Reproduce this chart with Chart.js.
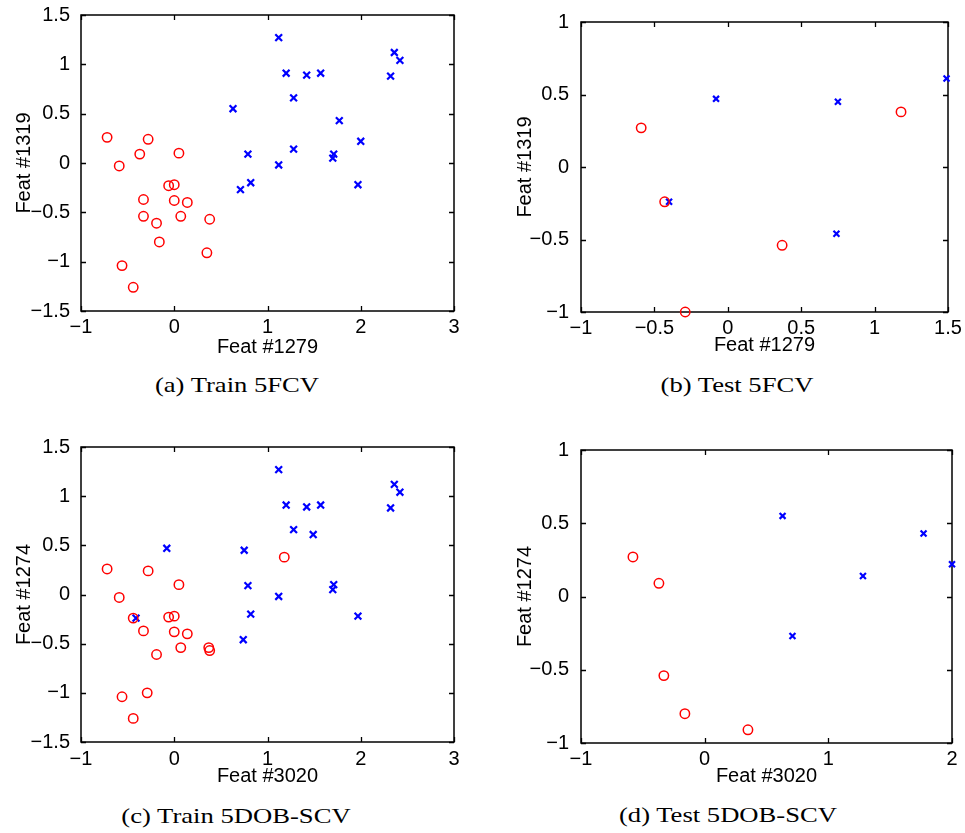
<!DOCTYPE html>
<html>
<head>
<meta charset="utf-8">
<script src="https://cdn.jsdelivr.net/npm/chart.js@4.4.1/dist/chart.umd.min.js"></script>
<style>
  body { margin: 0; background: #fff; }
  #page { position: relative; width: 965px; height: 833px; overflow: hidden; }
  canvas { position: absolute; }
  .caption {
    position: absolute;
    font-family: "Liberation Serif", "Times New Roman", serif;
    font-size: 22px;
    line-height: 1;
    white-space: nowrap;
    transform: translate(-50%, -50%) scaleX(1.21);
    color: #000;
  }
</style>
</head>
<body>
<div id="page">
  <canvas id="chartA" width="474" height="360" style="left:0px;top:0px"></canvas>
  <canvas id="chartB" width="475" height="358" style="left:490px;top:0px"></canvas>
  <canvas id="chartC" width="474" height="369" style="left:0px;top:420px"></canvas>
  <canvas id="chartD" width="475" height="369" style="left:490px;top:420px"></canvas>
  <div class="caption" style="left:237px;top:385px">(a) Train 5FCV</div>
  <div class="caption" style="left:737px;top:385px">(b) Test 5FCV</div>
  <div class="caption" style="left:236px;top:816px">(c) Train 5DOB-SCV</div>
  <div class="caption" style="left:728px;top:815px">(d) Test 5DOB-SCV</div>
</div>
<script>
// (a) Train 5FCV
const trainFcvCircleX = [-0.72, -0.28, -0.59, -0.37, 0.05, -0.06, 0.00, -0.33, 0.00, 0.14, -0.33, 0.07, 0.38, -0.19, -0.16, 0.35, -0.56, -0.44];
const trainFcvCircleY = [0.26, 0.24, -0.03, 0.09, 0.10, -0.23, -0.22, -0.37, -0.38, -0.40, -0.54, -0.54, -0.57, -0.61, -0.80, -0.91, -1.04, -1.26];
const trainFcvCrossX = [1.12, 1.20, 1.42, 1.57, 2.36, 2.42, 2.32, 1.28, 0.63, 1.77, 2.00, 1.28, 0.79, 1.71, 1.70, 1.12, 0.82, 0.71, 1.97];
const trainFcvCrossY = [1.27, 0.91, 0.89, 0.91, 1.12, 1.04, 0.88, 0.66, 0.55, 0.43, 0.22, 0.14, 0.09, 0.09, 0.05, -0.02, -0.20, -0.27, -0.22];

// (b) Test 5FCV
const testFcvCircleX = [-0.59, -0.43, -0.29, 0.37, 1.18];
const testFcvCircleY = [0.27, -0.24, -1.00, -0.54, 0.38];
const testFcvCrossX = [-0.08, 0.75, 1.49, -0.40, 0.74];
const testFcvCrossY = [0.47, 0.45, 0.61, -0.24, -0.46];

// (c) Train 5DOB-SCV
const trainDobCircleX = [-0.72, -0.28, -0.59, 0.05, -0.44, -0.06, 0.00, -0.33, 0.00, 0.14, 0.07, 0.37, 0.38, -0.19, -0.56, -0.29, -0.44, 1.18];
const trainDobCircleY = [0.26, 0.24, -0.03, 0.10, -0.24, -0.23, -0.22, -0.37, -0.38, -0.40, -0.54, -0.54, -0.57, -0.61, -1.04, -1.00, -1.26, 0.38];
const trainDobCrossX = [1.12, 1.20, 1.42, 1.57, 2.36, 2.42, 2.32, 1.28, 1.49, -0.08, 0.75, 0.79, 1.71, 1.70, 1.12, 0.82, 1.97, -0.41, 0.74];
const trainDobCrossY = [1.27, 0.91, 0.89, 0.91, 1.12, 1.04, 0.88, 0.66, 0.61, 0.47, 0.45, 0.09, 0.10, 0.05, -0.02, -0.20, -0.22, -0.24, -0.46];

// (d) Test 5DOB-SCV
const testDobCircleX = [-0.58, -0.37, -0.33, -0.16, 0.35];
const testDobCircleY = [0.27, 0.09, -0.54, -0.80, -0.91];
const testDobCrossX = [0.63, 1.77, 2.00, 1.28, 0.71];
const testDobCrossY = [0.55, 0.43, 0.22, 0.14, -0.27];

Chart.defaults.color = '#000';
Chart.defaults.font.family = '"Liberation Sans", Arial, Helvetica, sans-serif';
Chart.defaults.font.size = 20;

const zip = (xs, ys) => xs.map((x, i) => ({ x: x, y: ys[i] }));
const fmt = v => (v < 0 ? '\u2212' : '') + Math.abs(v);

// matlab style box with inward ticks on all four sides
const matlabBox = {
    id: 'matlabBox',
    beforeDatasetsDraw(chart) {
        const { ctx, chartArea: a, scales } = chart;
        const len = 5;
        ctx.save();
        ctx.strokeStyle = '#000';
        ctx.lineWidth = 1.3;
        ctx.beginPath();
        scales.x.ticks.forEach(t => {
            const px = Math.round(scales.x.getPixelForValue(t.value)) + 0.5;
            ctx.moveTo(px, a.bottom); ctx.lineTo(px, a.bottom - len);
            ctx.moveTo(px, a.top); ctx.lineTo(px, a.top + len);
        });
        scales.y.ticks.forEach(t => {
            const py = Math.round(scales.y.getPixelForValue(t.value)) + 0.5;
            ctx.moveTo(a.left, py); ctx.lineTo(a.left + len, py);
            ctx.moveTo(a.right, py); ctx.lineTo(a.right - len, py);
        });
        ctx.stroke();
        ctx.lineWidth = 1.5;
        ctx.strokeRect(a.left, a.top, a.right - a.left, a.bottom - a.top);
        ctx.restore();
    }
};

function buildPanel({ canvasId, circleX, circleY, crossX, crossY, xMin, xMax, xStep, yMin, yMax, yStep,
                      xLabel, yLabel, padding, yWidth, yTitlePad, yTickPad, xHeight, xTickPad, markerSize }) {
    const ctx = document.getElementById(canvasId).getContext('2d');
    return new Chart(ctx, {
        type: 'scatter',
        data: {
            datasets: [{
                data: zip(circleX, circleY),
                pointStyle: 'circle',
                pointRadius: 4.7,
                pointHoverRadius: 4.7,
                pointBorderWidth: 1.5,
                borderColor: '#ff0000',
                backgroundColor: 'rgba(0,0,0,0)',
                clip: false
            }, {
                data: zip(crossX, crossY),
                pointStyle: 'crossRot',
                pointRadius: markerSize,
                pointHoverRadius: markerSize,
                pointBorderWidth: 2.2,
                borderColor: '#0000ff',
                backgroundColor: '#0000ff',
                clip: false
            }]
        },
        options: {
            responsive: false,
            animation: false,
            devicePixelRatio: 1,
            layout: { padding: padding },
            plugins: { legend: { display: false }, tooltip: { enabled: false } },
            scales: {
                x: {
                    type: 'linear',
                    min: xMin, max: xMax,
                    grid: { display: false },
                    border: { display: false },
                    ticks: { stepSize: xStep, padding: xTickPad, maxRotation: 0, callback: fmt },
                    title: { display: true, text: xLabel, padding: { top: 0, bottom: 0 } },
                    afterFit: s => { s.height = xHeight; }
                },
                y: {
                    type: 'linear',
                    min: yMin, max: yMax,
                    grid: { display: false },
                    border: { display: false },
                    ticks: { stepSize: yStep, padding: yTickPad, callback: fmt },
                    title: { display: true, text: yLabel, padding: { top: yTitlePad, bottom: 0 } },
                    afterFit: s => { s.width = yWidth; }
                }
            }
        },
        plugins: [matlabBox]
    });
}

buildPanel({
    canvasId: 'chartA', circleX: trainFcvCircleX, circleY: trainFcvCircleY, crossX: trainFcvCrossX, crossY: trainFcvCrossY,
    xMin: -1, xMax: 3, xStep: 1, yMin: -1.5, yMax: 1.5, yStep: 0.5,
    xLabel: 'Feat #1279', yLabel: 'Feat #1319',
    padding: { top: 15, right: 20, bottom: 1, left: 0 },
    yWidth: 81, yTitlePad: 12, yTickPad: 3, xHeight: 48, xTickPad: -4, markerSize: 4.8
});

buildPanel({
    canvasId: 'chartB', circleX: testFcvCircleX, circleY: testFcvCircleY, crossX: testFcvCrossX, crossY: testFcvCrossY,
    xMin: -1, xMax: 1.5, xStep: 0.5, yMin: -1, yMax: 1, yStep: 0.5,
    xLabel: 'Feat #1279', yLabel: 'Feat #1319',
    padding: { top: 22, right: 17, bottom: 1, left: 0 },
    yWidth: 91, yTitlePad: 23, yTickPad: 4, xHeight: 45, xTickPad: -4, markerSize: 4.2
});

buildPanel({
    canvasId: 'chartC', circleX: trainDobCircleX, circleY: trainDobCircleY, crossX: trainDobCrossX, crossY: trainDobCrossY,
    xMin: -1, xMax: 3, xStep: 1, yMin: -1.5, yMax: 1.5, yStep: 0.5,
    xLabel: 'Feat #3020', yLabel: 'Feat #1274',
    padding: { top: 27, right: 20, bottom: 1, left: 0 },
    yWidth: 81, yTitlePad: 12, yTickPad: 3, xHeight: 46, xTickPad: -3, markerSize: 4.8
});

buildPanel({
    canvasId: 'chartD', circleX: testDobCircleX, circleY: testDobCircleY, crossX: testDobCrossX, crossY: testDobCrossY,
    xMin: -1, xMax: 2, xStep: 1, yMin: -1, yMax: 1, yStep: 0.5,
    xLabel: 'Feat #3020', yLabel: 'Feat #1274',
    padding: { top: 30, right: 13, bottom: 1, left: 0 },
    yWidth: 91, yTitlePad: 23, yTickPad: 4, xHeight: 45, xTickPad: -4, markerSize: 4.2
});
</script>
</body>
</html>
